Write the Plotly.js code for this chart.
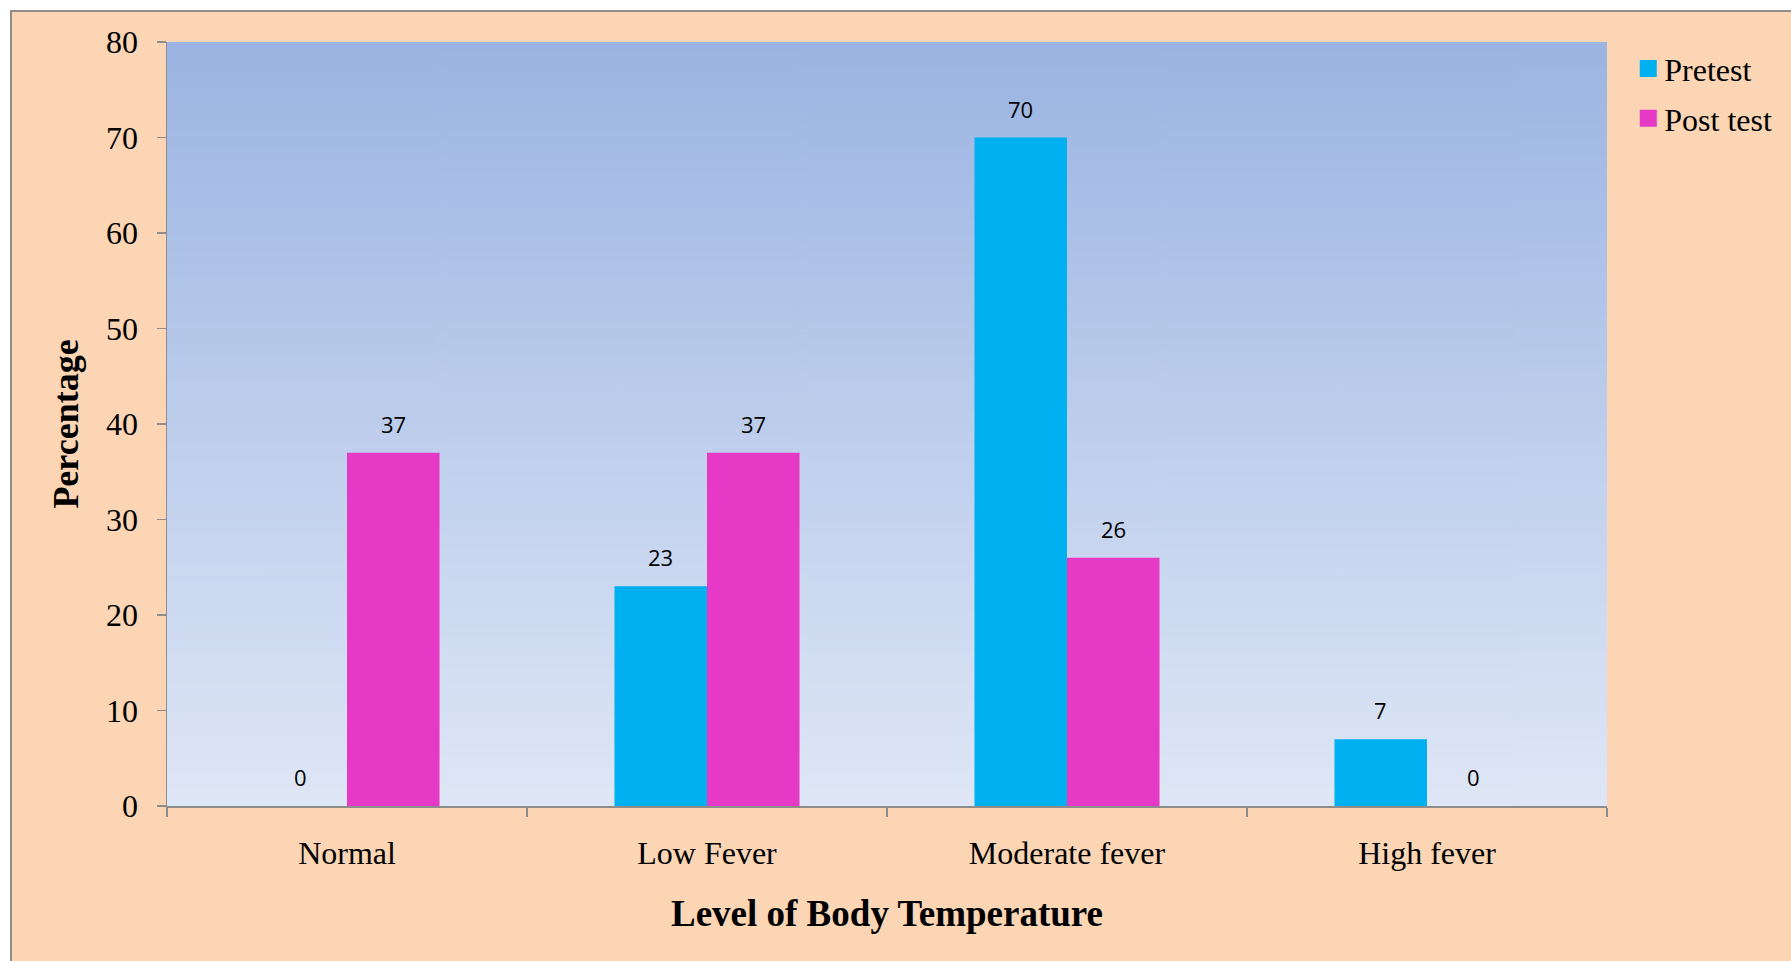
<!DOCTYPE html>
<html>
<head>
<meta charset="utf-8">
<script src="https://cdn.plot.ly/plotly-3.0.1.min.js"></script>
<style>
  html, body { margin: 0; padding: 0; background: #ffffff; width: 1791px; height: 961px; overflow: hidden; }
  #frame {
    position: absolute; left: 10px; top: 10px;
    width: 1779px; height: 949px;
    border-left: 2px solid #8e8e8e; border-top: 2px solid #8e8e8e;
    background: #fcd5b5;
  }
  #chart { width: 1779px; height: 949px; }
</style>
</head>
<body>
<div id="frame"><div id="chart"></div></div>
<script>
// Body temperature levels before and after the intervention (%)
const categories = ['Normal', 'Low Fever', 'Moderate fever', 'High fever'];
const pretest = [0, 23, 70, 7];
const posttest = [37, 37, 26, 0];
const seriesNames = ['Pretest', 'Post test'];
const yTicks = [0, 10, 20, 30, 40, 50, 60, 70, 80];

const colors = ['#00b0f0', '#e639c6'];
const serif = 'Liberation Serif, Times New Roman, serif';

// Vertical blue wash behind the bars
function gradientImage() {
  const c = document.createElement('canvas');
  c.width = 8; c.height = 512;
  const g = c.getContext('2d');
  const grd = g.createLinearGradient(0, 0, 0, 512);
  grd.addColorStop(0, '#9bb4e2');
  grd.addColorStop(1, '#dfe7f6');
  g.fillStyle = grd;
  g.fillRect(0, 0, 8, 512);
  return c.toDataURL('image/png');
}

const series = [pretest, posttest];
const traces = series.map((vals, i) => ({
  type: 'bar',
  name: seriesNames[i],
  legendgroup: 'g' + i,
  x: categories,
  y: vals,
  marker: { color: colors[i], line: { width: 0 } },
  hoverinfo: 'x+y+name'
}));

const bargap = 0.486;
const plotWidth = 1440;
const barPx = plotWidth / categories.length * (1 - bargap) / 2;

const annotations = [];
series.forEach((vals, i) => {
  vals.forEach((v, j) => {
    annotations.push({
      x: categories[j], y: v, xref: 'x', yref: 'y',
      text: String(v), showarrow: false,
      xshift: (i === 0 ? -1 : 1) * barPx / 2,
      yshift: 29, yanchor: 'middle', xanchor: 'center',
      font: { family: 'Open Sans, sans-serif', size: 22, color: '#000000' }
    });
  });
});

const axisGray = '#8c8c8c';

const layout = {
  width: 1779, height: 949,
  margin: { l: 155, r: 184, t: 30, b: 155 },
  paper_bgcolor: '#fcd5b5',
  plot_bgcolor: '#c4d2ee',
  barmode: 'group',
  bargap: bargap,
  bargroupgap: 0,
  showlegend: true,
  legend: {
    x: 1.012, xanchor: 'left', y: 1.001, yanchor: 'top',
    bgcolor: 'rgba(0,0,0,0)',
    font: { family: serif, size: 32, color: '#000000' },
    traceorder: 'grouped', tracegroupgap: 5
  },
  xaxis: {
    type: 'category',
    showline: true, linecolor: axisGray, linewidth: 1.5,
    ticks: 'outside', tickson: 'boundaries', ticklen: 9, tickcolor: axisGray, tickwidth: 1.5,
    tickfont: { family: serif, size: 32, color: '#000000' },
    ticklabelstandoff: 18,
    showgrid: false, zeroline: false,
    title: { text: '<b>Level of Body Temperature</b>', font: { family: serif, size: 37, color: '#000000' }, standoff: 30 }
  },
  yaxis: {
    range: [0, 80], tickvals: yTicks, ticktext: yTicks.map(String),
    showline: true, linecolor: axisGray, linewidth: 1.5,
    ticks: 'outside', ticklen: 9, tickcolor: axisGray, tickwidth: 1.5,
    tickfont: { family: serif, size: 32, color: '#000000' },
    ticklabelstandoff: 12,
    showgrid: false, zeroline: false,
    title: { text: '<b>Percentage</b>', font: { family: serif, size: 36, color: '#000000' }, standoff: 16 }
  },
  images: [{
    source: gradientImage(), xref: 'paper', yref: 'paper',
    x: 0, y: 1, sizex: 1, sizey: 1, xanchor: 'left', yanchor: 'top',
    sizing: 'stretch', layer: 'below'
  }],
  annotations: annotations
};

Plotly.newPlot('chart', traces, layout, { displayModeBar: false, staticPlot: true }).then(gd => {
  // Larger square swatches in the legend
  gd.querySelectorAll('.legendpoints path').forEach(p => {
    p.setAttribute('d', 'M12.5,8.5H-4.5V-8.5H12.5Z');
  });
});
</script>
</body>
</html>
